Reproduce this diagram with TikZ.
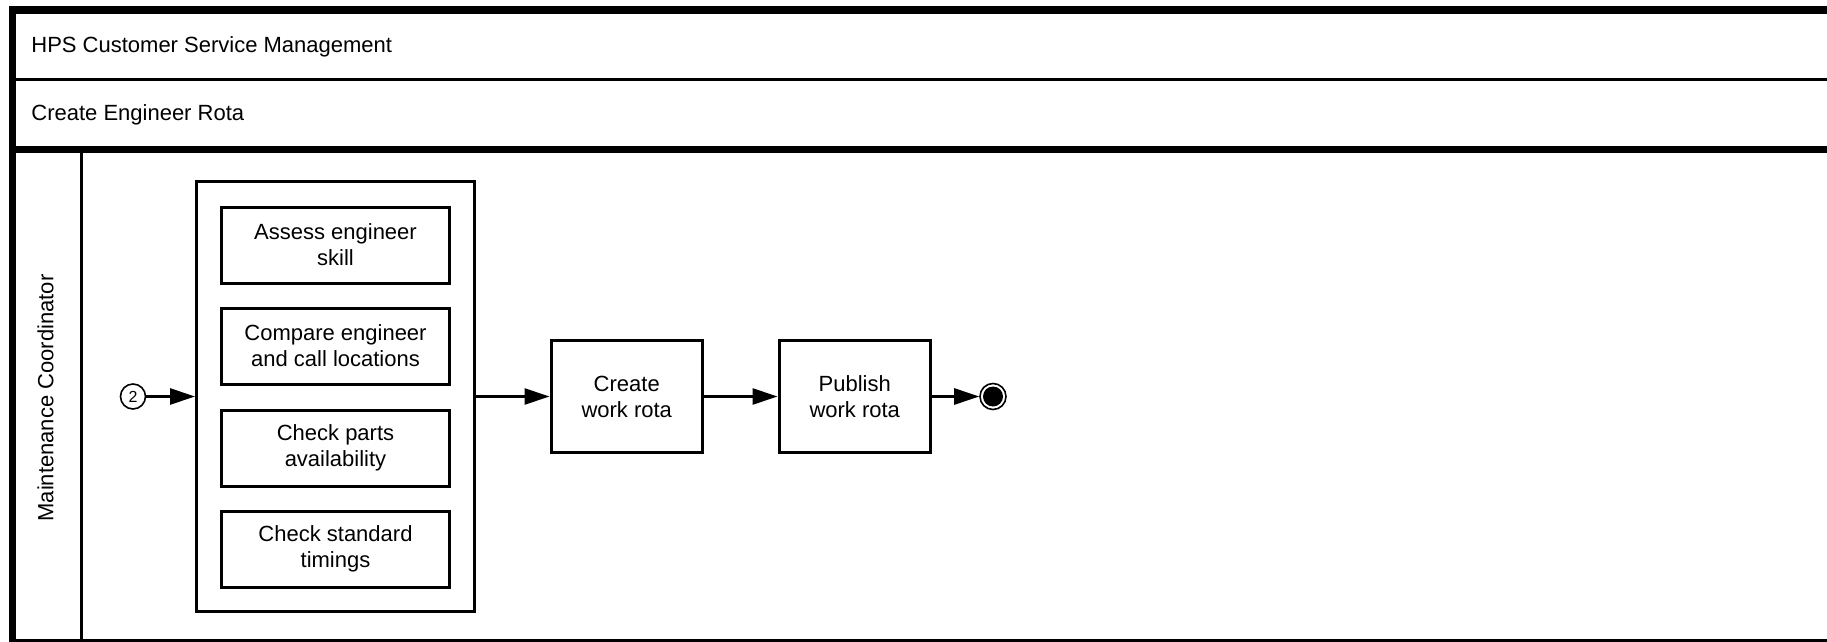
\documentclass[tikz,border=0pt]{standalone}
\usepackage{fontspec}
\setmainfont{Liberation Sans}
\usetikzlibrary{arrows.meta}

\begin{document}
\begin{tikzpicture}[x=0.5pt, y=-0.5pt, font=\fontsize{11}{13}\selectfont,
    task/.style={draw, line width=1.5pt, align=center, inner sep=0pt, minimum width=114pt, minimum height=38pt},
    bigtask/.style={task, minimum width=75.75pt, minimum height=56.25pt},
    flow/.style={line width=1.35pt, -{Triangle[length=12.5pt, width=8pt]}}]
        \useasboundingbox (0, 0) rectangle (1827, 642);

        % pool and lane frame
        \draw[line width=4pt] (9, 10) -- (1827, 10);
        \draw[line width=3.5pt] (12.5, 6) -- (12.5, 642);
        \draw[line width=1.7pt] (12.5, 79.5) -- (1827, 79.5);
        \draw[line width=3.5pt] (12.5, 149.2) -- (1827, 149.2);
        \draw[line width=1.5pt] (81.5, 149.2) -- (81.5, 642);
        \draw[line width=1.5pt] (12.5, 640.7) -- (1827, 640.7);

        \node[anchor=base west, inner sep=0pt] (pool) at (31, 53) {HPS Customer Service Management};
        \node[anchor=base west, inner sep=0pt] (process) at (31, 121) {Create Engineer Rota};
        \node[anchor=base, rotate=90, inner sep=0pt] (lane) at (53.3, 398) {Maintenance Coordinator};

        % sub-process with its four tasks
        \node[draw, line width=1.5pt, inner sep=0pt, minimum width=139pt, minimum height=214.5pt] (sub) at (335.5, 396.5) {};
        \node[task] (assess) at (335.5, 245) {Assess engineer\\skill};
        \node[task] (compare) at (335.5, 346) {Compare engineer\\and call locations};
        \node[task] (parts) at (335.5, 448) {Check parts\\availability};
        \node[task] (timings) at (335.5, 549) {Check standard\\timings};

        \node[bigtask] (create) at (626.75, 396.5) {Create\\work rota};
        \node[bigtask] (publish) at (854.75, 396.5) {Publish\\work rota};

        \node[circle, draw, line width=0.8pt, inner sep=0pt, minimum size=12.5pt, font=\fontsize{8}{9}\selectfont] (start) at (133, 396.5) {2};
        \node[circle, draw, line width=0.8pt, inner sep=0pt, minimum size=13pt] (finish) at (993, 396.5) {};
        \fill (finish.center) circle[radius=5pt];

        \draw[flow] (start) -- (sub);
        \draw[flow] (sub) -- (create);
        \draw[flow] (create) -- (publish);
        \draw[flow] (publish) -- (finish);
    \end{tikzpicture}
\end{document}
